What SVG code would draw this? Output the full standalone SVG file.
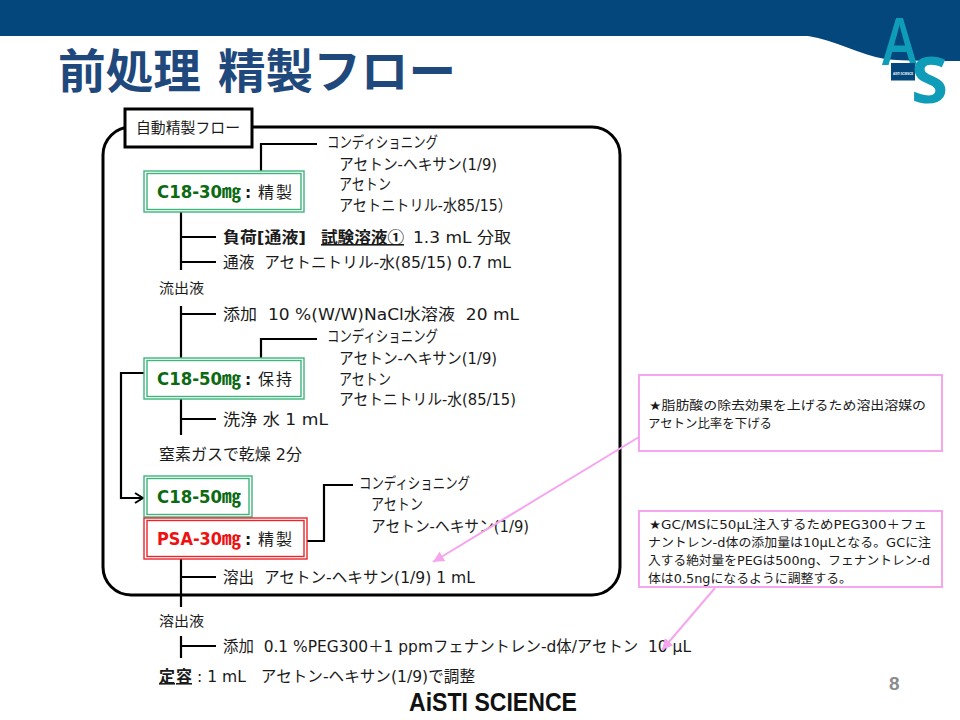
<svg xmlns="http://www.w3.org/2000/svg" width="960" height="720" viewBox="0 0 960 720">
<style>
text{font-family:"DejaVu Sans","Noto Sans CJK JP",sans-serif;fill:#1a1a1a;font-size:15.5px}
.s{font-size:13.5px}
.p{font-size:12.5px}
.b{font-weight:700}
.g{font-family:"DejaVu Sans",sans-serif;font-weight:700;font-size:17px;fill:#0b6a12}
.r{font-family:"DejaVu Sans",sans-serif;font-weight:700;font-size:17px;fill:#ee1111}
.gm{font-family:"Noto Sans CJK JP",sans-serif;font-weight:700;font-size:18px;fill:#0b6a12}
.rm{font-family:"Noto Sans CJK JP",sans-serif;font-weight:700;font-size:18px;fill:#ee1111}
.j{font-family:"Noto Sans CJK JP",sans-serif;font-size:16px}
.c{fill:none;stroke:#000;stroke-width:2.2}
.ng{fill:#fff;stroke:#3fb47c;stroke-width:1.4}
.nr{fill:#fff;stroke:#e8272c;stroke-width:1.4}
.pk{fill:#fff;stroke:#f5a6ee;stroke-width:2}
.pa{fill:none;stroke:#f5a6ee;stroke-width:2}
</style>
<defs>
<marker id="ah" markerWidth="10" markerHeight="12" refX="9" refY="6" orient="auto" markerUnits="userSpaceOnUse"><path d="M1 1L9 6L1 11" fill="none" stroke="#000" stroke-width="2"/></marker>
<marker id="pah" markerWidth="12" markerHeight="12" refX="11" refY="6" orient="auto" markerUnits="userSpaceOnUse"><path d="M0 0.500L11 6L0 11.500Z" fill="#f5a6ee"/></marker>
</defs>
<g id="header">
<path d="M0 0H960V61C930 61 905 61 885 59C860 55 835 40 808 36H0Z" fill="#04477c"/>
<text x="58" y="88" style="font-family:'Noto Sans CJK JP',sans-serif;font-weight:700;font-size:47px;fill:#1f497d" textLength="143" lengthAdjust="spacingAndGlyphs">前処理</text>
<text x="218" y="88" style="font-family:'Noto Sans CJK JP',sans-serif;font-weight:700;font-size:47px;fill:#1f497d" textLength="238" lengthAdjust="spacingAndGlyphs">精製フロー</text>
</g>
<g id="logo">
<text x="882" y="65" style="font-family:'Open Sans',sans-serif;font-size:66px;fill:#0f9cb8;font-weight:600" textLength="35" lengthAdjust="spacingAndGlyphs">A</text>
<rect x="891" y="63" width="24" height="17.500" fill="#04477c"/>
<text x="893" y="74.500" style="font-family:'Liberation Sans',sans-serif;font-size:3.500px;fill:#fff;font-weight:700" textLength="20" lengthAdjust="spacingAndGlyphs">AISTI SCIENCE</text>
<text x="911" y="103" style="font-family:'Open Sans',sans-serif;font-size:64px;fill:#0f9cb8;font-weight:700" textLength="37" lengthAdjust="spacingAndGlyphs">S</text>
</g>
<g id="frame">
<rect x="103" y="127" width="517" height="468" rx="28" fill="#fff" stroke="#000" stroke-width="3"/>
<rect x="125" y="109" width="127" height="38" fill="#fff" stroke="#000" stroke-width="3"/>
<text x="136" y="133" class="j" style="font-size:15px" textLength="104" lengthAdjust="spacingAndGlyphs">自動精製フロー</text>
</g>
<g id="connectors">
<path class="c" d="M261 171V144H317"/>
<path class="c" d="M181 212V270M181 237H216M181 262H216"/>
<path class="c" d="M181 306V358M181 314H216"/>
<path class="c" d="M261 358V339H317"/>
<path class="c" d="M181 399V435M181 419H216"/>
<path class="c" d="M144 373H121V498H143" marker-end="url(#ah)"/>
<path class="c" d="M307 541H324V485H353"/>
<path class="c" d="M181 559V607M181 577H216"/>
<path class="c" d="M181 636V658M181 646H216"/>
</g>
<g id="node-c18-30">
<rect class="ng" x="144" y="171" width="160" height="41"/><rect class="ng" x="147" y="173.500" width="154" height="36"/>
<text class="g" x="157" y="198" textLength="65" lengthAdjust="spacingAndGlyphs">C18-30</text><text class="gm" x="222" y="198" textLength="19" lengthAdjust="spacingAndGlyphs">㎎</text><text x="245" y="198" class="b">:</text><text class="j" x="258" y="198" textLength="34">精製</text>
</g>
<g id="node-c18-50-hold">
<rect class="ng" x="144" y="358" width="160" height="41"/><rect class="ng" x="147" y="360.500" width="154" height="36"/>
<text class="g" x="157" y="385" textLength="65" lengthAdjust="spacingAndGlyphs">C18-50</text><text class="gm" x="222" y="385" textLength="19" lengthAdjust="spacingAndGlyphs">㎎</text><text x="245" y="385" class="b">:</text><text class="j" x="258" y="385" textLength="34">保持</text>
</g>
<g id="node-c18-50">
<rect class="ng" x="144" y="476" width="108" height="41"/><rect class="ng" x="147" y="478.500" width="102" height="36"/>
<text class="g" x="157" y="503" textLength="65" lengthAdjust="spacingAndGlyphs">C18-50</text><text class="gm" x="222" y="503" textLength="19" lengthAdjust="spacingAndGlyphs">㎎</text>
</g>
<g id="node-psa-30">
<rect class="nr" x="144" y="518" width="163" height="41"/><rect class="nr" x="147" y="520.500" width="157" height="36"/>
<text class="r" x="157" y="545" textLength="65" lengthAdjust="spacingAndGlyphs">PSA-30</text><text class="rm" x="222" y="545" textLength="19" lengthAdjust="spacingAndGlyphs">㎎</text><text x="245" y="545" class="b">:</text><text class="j" x="258" y="545" textLength="34">精製</text>
</g>
<g id="labels">
<text x="327" y="148" textLength="111" lengthAdjust="spacingAndGlyphs">コンディショニング</text>
<text x="339" y="170" textLength="158" lengthAdjust="spacingAndGlyphs">アセトン-ヘキサン(1/9)</text>
<text x="339" y="190" textLength="52" lengthAdjust="spacingAndGlyphs">アセトン</text>
<text x="339" y="211" textLength="173" lengthAdjust="spacingAndGlyphs">アセトニトリル-水85/15）</text>
<text x="223" y="243" class="b" textLength="83" lengthAdjust="spacingAndGlyphs">負荷[通液]</text>
<text x="321" y="243" class="b j" text-decoration="underline" textLength="83" lengthAdjust="spacingAndGlyphs">試験溶液①</text>
<text x="413" y="243" textLength="98" lengthAdjust="spacingAndGlyphs">1.3 mL 分取</text>
<text x="223" y="268" textLength="288" lengthAdjust="spacingAndGlyphs" xml:space="preserve">通液  アセトニトリル-水(85/15) 0.7 mL</text>
<text x="159" y="293" class="s" textLength="45" lengthAdjust="spacingAndGlyphs">流出液</text>
<text x="223" y="320" textLength="296" lengthAdjust="spacingAndGlyphs" xml:space="preserve">添加  10 %(W/W)NaCl水溶液  20 mL</text>
<text x="327" y="342" textLength="111" lengthAdjust="spacingAndGlyphs">コンディショニング</text>
<text x="339" y="364" textLength="158" lengthAdjust="spacingAndGlyphs">アセトン-ヘキサン(1/9)</text>
<text x="339" y="385" textLength="52" lengthAdjust="spacingAndGlyphs">アセトン</text>
<text x="339" y="405" textLength="177" lengthAdjust="spacingAndGlyphs">アセトニトリル-水(85/15)</text>
<text x="223" y="425" textLength="105" lengthAdjust="spacingAndGlyphs">洗浄 水 1 mL</text>
<text x="159" y="460" textLength="143" lengthAdjust="spacingAndGlyphs">窒素ガスで乾燥 2分</text>
<text x="359" y="489" textLength="111" lengthAdjust="spacingAndGlyphs">コンディショニング</text>
<text x="371" y="510" textLength="52" lengthAdjust="spacingAndGlyphs">アセトン</text>
<text x="371" y="532" textLength="158" lengthAdjust="spacingAndGlyphs">アセトン-ヘキサン(1/9)</text>
<text x="223" y="583" textLength="252" lengthAdjust="spacingAndGlyphs" xml:space="preserve">溶出  アセトン-ヘキサン(1/9) 1 mL</text>
<text x="159" y="626" class="s" textLength="45" lengthAdjust="spacingAndGlyphs">溶出液</text>
<text x="223" y="652" textLength="468" lengthAdjust="spacingAndGlyphs" xml:space="preserve">添加  0.1 %PEG300＋1 ppmフェナントレン-d体/アセトン  10 μL</text>
<text x="159" y="682" class="b j" text-decoration="underline" textLength="33">定容</text>
<text x="197" y="682" textLength="278" lengthAdjust="spacingAndGlyphs" xml:space="preserve">: 1 mL   アセトン-ヘキサン(1/9)で調整</text>
</g>
<g id="note-1">
<rect class="pk" x="639" y="375" width="303" height="76"/>
<text class="p" x="649" y="410" textLength="277" lengthAdjust="spacingAndGlyphs">★脂肪酸の除去効果を上げるため溶出溶媒の</text>
<text class="p" x="648" y="428" textLength="124" lengthAdjust="spacingAndGlyphs">アセトン比率を下げる</text>
</g>
<g id="note-2">
<rect class="pk" x="639" y="511" width="303" height="76"/>
<text class="p" x="649" y="529" textLength="278" lengthAdjust="spacingAndGlyphs">★GC/MSに50μL注入するためPEG300＋フェ</text>
<text class="p" x="648" y="547" textLength="283" lengthAdjust="spacingAndGlyphs">ナントレン-d体の添加量は10μLとなる。GCに注</text>
<text class="p" x="648" y="565" textLength="282" lengthAdjust="spacingAndGlyphs">入する絶対量をPEGは500ng、フェナントレン-d</text>
<text class="p" x="648" y="583" textLength="204" lengthAdjust="spacingAndGlyphs">体は0.5ngになるように調整する。</text>
</g>
<g id="note-arrows">
<path class="pa" d="M639 437L433 562" marker-end="url(#pah)"/>
<path class="pa" d="M715 588L662 650" marker-end="url(#pah)"/>
</g>
<g id="footer">
<text x="409" y="711" style="font-family:'Liberation Sans',sans-serif;font-weight:700;font-size:25px;fill:#111" textLength="168" lengthAdjust="spacingAndGlyphs">AiSTI SCIENCE</text>
<text x="889" y="690" style="font-family:'Liberation Sans',sans-serif;font-weight:700;font-size:19px;fill:#8c8c8c">8</text>
</g>
</svg>
